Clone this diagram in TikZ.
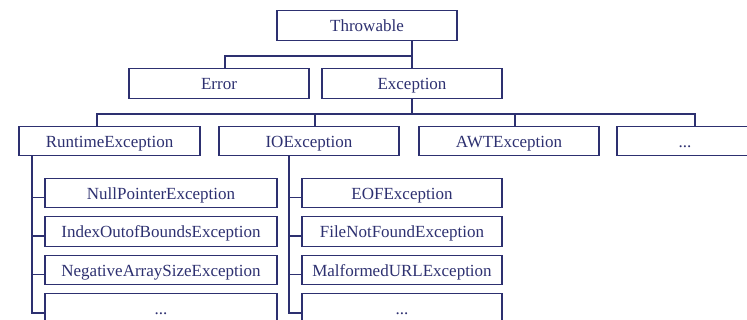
\documentclass[tikz,border=0pt]{standalone}
\usepackage{fontspec}
\setmainfont{Liberation Serif}
\definecolor{navy}{RGB}{45,48,112}
\begin{document}
\begin{tikzpicture}[x=1pt,y=-1pt,
  box/.style={draw=navy, line width=1.1pt, text=navy, font=\fontsize{17}{20}\selectfont, minimum height=29.5pt, inner sep=0pt, text height=13pt, text depth=0pt, anchor=center},
  wide/.style={box, minimum width=180pt},
  sub/.style={box, minimum width=232pt},
  iosub/.style={box, minimum width=200pt},
  link/.style={draw=navy, line width=1.1pt}]
\useasboundingbox (0,0) rectangle (747,320);
\clip (0,0) rectangle (747,320);
% level 1
\node[wide] (thr) at (367,25.5) {Throwable};
% level 2
\node[wide] (err) at (219,83.5) {Error};
\node[wide] (exc) at (412,83.5) {Exception};
% level 3
\node[box, minimum width=181pt] (rt) at (109.5,141) {RuntimeException};
\node[wide] (io) at (309,141) {IOException};
\node[wide] (awt) at (509,141) {AWTException};
\node[box, minimum width=136pt] (dots) at (685,141) {...};
% runtime subclasses
\node[sub] (np) at (161,193) {NullPointerException};
\node[sub] (ib) at (161,231.5) {IndexOutofBoundsException};
\node[sub] (na) at (161,270) {NegativeArraySizeException};
\node[sub] (rd) at (161,308.5) {...};
% io subclasses
\node[iosub] (eof) at (402,193) {EOFException};
\node[iosub] (fnf) at (402,231.5) {FileNotFoundException};
\node[iosub] (mal) at (402,270) {MalformedURLException};
\node[iosub] (iod) at (402,308.5) {...};
% connectors level 1-2
\coordinate (j1) at (412,56);
\draw[link] (thr.south -| exc.north) -- (exc.north);
\draw[link] ([xshift=6pt]err.north) |- (j1);
% connectors level 2-3
\coordinate (j2) at (412,114);
\draw[link] (exc.south) -- (j2);
\draw[link] ([xshift=-12.5pt]rt.north) |- (j2);
\draw[link] (j2) -| ([xshift=10pt]dots.north);
\draw[link] ([xshift=6pt]io.north) -- ++(0,-12);
\draw[link] ([xshift=6pt]awt.north) -- ++(0,-12);
% runtime subtree
\draw[link] ([xshift=-77.5pt]rt.south) |- ([yshift=-4.5pt]rd.west);
\draw[link] ([yshift=-4.5pt]np.west) -- ++(-13,0);
\draw[link] ([yshift=-4.5pt]ib.west) -- ++(-13,0);
\draw[link] ([yshift=-4.5pt]na.west) -- ++(-13,0);
% io subtree
\draw[link] ([xshift=-20pt]io.south) |- ([yshift=-4.5pt]iod.west);
\draw[link] ([yshift=-4.5pt]eof.west) -- ++(-13,0);
\draw[link] ([yshift=-4.5pt]fnf.west) -- ++(-13,0);
\draw[link] ([yshift=-4.5pt]mal.west) -- ++(-13,0);
\end{tikzpicture}
\end{document}
